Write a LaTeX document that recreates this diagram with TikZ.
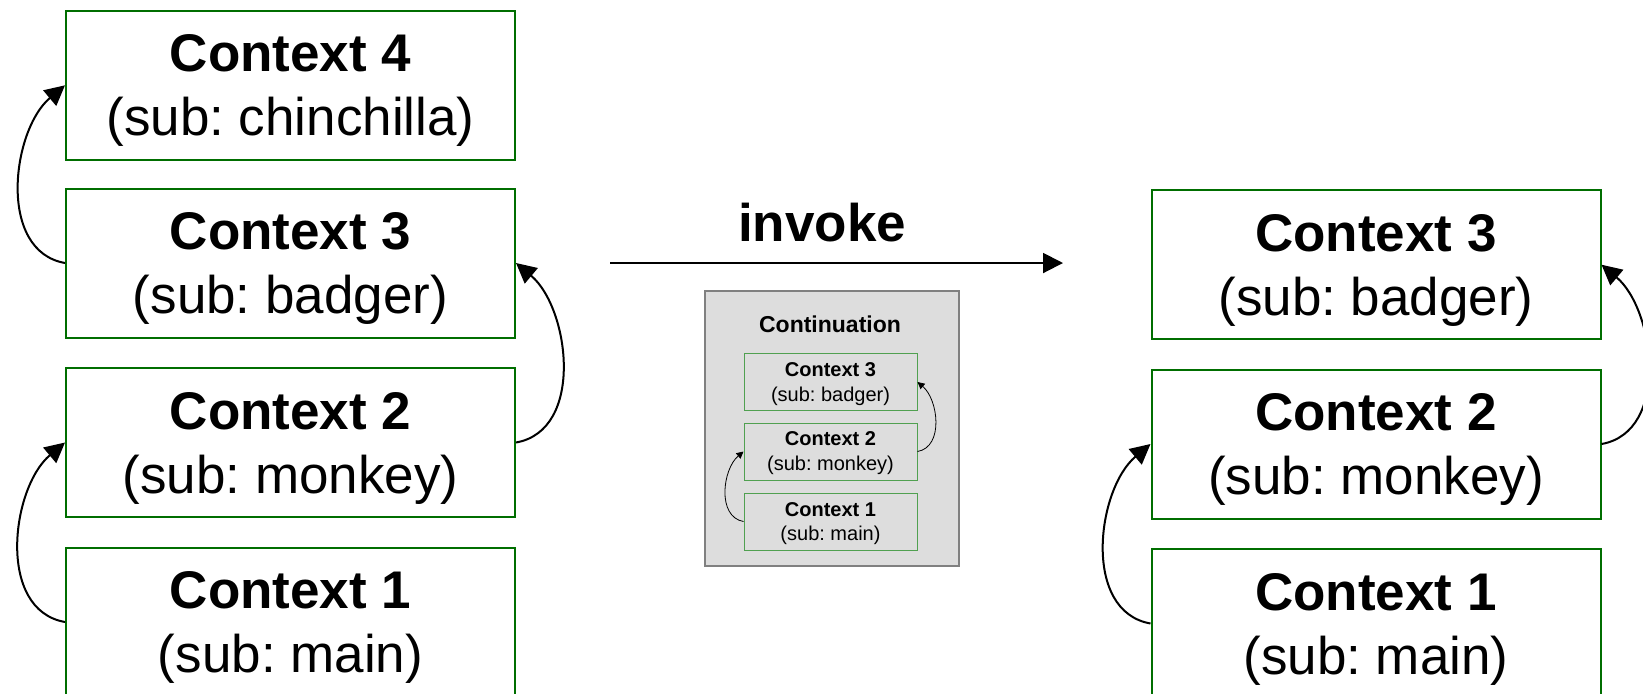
\documentclass[tikz,border=0pt]{standalone}
\usepackage{fontspec}
\setmainfont{Liberation Sans}
\usetikzlibrary{arrows.meta}
\frenchspacing
\definecolor{box-green}{RGB}{0,110,0}
\definecolor{small-green}{RGB}{80,160,80}
\definecolor{cont-gray}{RGB}{221,221,221}
\definecolor{cont-border}{RGB}{128,128,128}
\tikzset{
    context-box/.style = {draw=box-green, line width=1pt, fill=white, rectangle, minimum width=224.5pt, minimum height=74.5pt, inner sep=0pt, align=center, font=\fontsize{26.5}{32}\selectfont, text depth=-6pt},
    small-box/.style = {draw=small-green, line width=0.5pt, rectangle, minimum width=86.5pt, minimum height=28.5pt, inner sep=0pt, align=center, font=\fontsize{10}{12.5}\selectfont, text depth=-1.5pt},
    cont-box/.style = {draw=cont-border, fill=cont-gray, line width=0.6pt, rectangle, minimum width=127pt, minimum height=137.5pt, inner sep=0pt},
    back-link/.style = {-{Triangle[length=10pt, width=10pt]}, line width=1pt},
    small-link/.style = {-{Triangle[length=3.5pt, width=3.5pt]}, line width=0.4pt},
}

\begin{document}
\begin{tikzpicture}[x=0.5pt, y=0.5pt]
\useasboundingbox (0,0) rectangle (1643,-693);

\node[context-box] (l4) at (290.5,-85.3) {\textbf{Context 4}\\(sub: chinchilla)};
\node[context-box] (l3) at (290.5,-263) {\textbf{Context 3}\\(sub: badger)};
\node[context-box] (l2) at (290.5,-442.5) {\textbf{Context 2}\\(sub: monkey)};
\node[context-box] (l1) at (290.5,-622) {\textbf{Context 1}\\(sub: main)};
\draw[back-link] (l3.west) to[out=170, in=220] (l4.west);
\draw[back-link] (l2.east) to[out=10, in=-40] (l3.east);
\draw[back-link] (l1.west) to[out=170, in=220] (l2.west);

\coordinate (invoke-start) at (610,-263);
\coordinate (invoke-end) at (1063,-263);
\draw[-{Triangle[length=10pt, width=10pt]}, line width=1pt] (invoke-start) -- (invoke-end);
\node[font=\bfseries\fontsize{26.5}{30}\selectfont] (invoke-label) at (822,-222.5) {invoke};

\node[cont-box] (cont) at (832,-428.5) {};
\node[font=\bfseries\fontsize{11.5}{13}\selectfont] (cont-title) at (830,-324) {Continuation};
\node[small-box] (s3) at (830.5,-382) {\textbf{Context 3}\\(sub: badger)};
\node[small-box] (s2) at (830.5,-451.5) {\textbf{Context 2}\\(sub: monkey)};
\node[small-box] (s1) at (830.5,-521.5) {\textbf{Context 1}\\(sub: main)};
\draw[small-link] (s2.east) to[out=10, in=-40] (s3.east);
\draw[small-link] (s1.west) to[out=170, in=220] (s2.west);

\node[context-box] (r3) at (1376,-264.7) {\textbf{Context 3}\\(sub: badger)};
\node[context-box] (r2) at (1376,-444) {\textbf{Context 2}\\(sub: monkey)};
\node[context-box] (r1) at (1376,-623.5) {\textbf{Context 1}\\(sub: main)};
\draw[back-link] (r2.east) to[out=10, in=-40] (r3.east);
\draw[back-link] (r1.west) to[out=170, in=220] (r2.west);
\end{tikzpicture}
\end{document}
